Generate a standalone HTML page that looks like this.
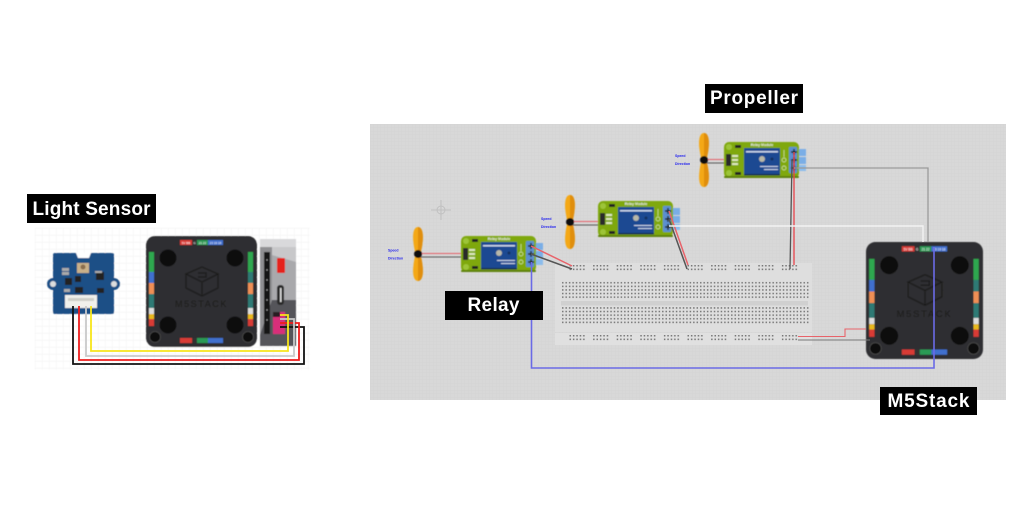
<!DOCTYPE html>
<html><head><meta charset="utf-8"><style>
html,body{margin:0;padding:0;background:#fff;width:1024px;height:513px;overflow:hidden}
svg{display:block}
.lab{font-family:"Liberation Sans",sans-serif;font-weight:700;fill:#fff;text-anchor:middle}
.tiny{font-family:"Liberation Sans",sans-serif;font-size:3.5px;font-weight:700;fill:#2222ee}
.pin{font-family:"Liberation Sans",sans-serif;font-size:3px;fill:#fff;text-anchor:middle}
.mt{font-family:"Liberation Sans",sans-serif;font-weight:700;fill:#eee;text-anchor:middle}
</style></head><body>
<svg xmlns="http://www.w3.org/2000/svg" width="1024" height="513" viewBox="0 0 1024 513">
<defs>
<pattern id="lg" width="7" height="7" patternUnits="userSpaceOnUse" x="35" y="228"><path d="M7 0H0V7" fill="none" stroke="#ececec" stroke-width=".7"/></pattern>
<pattern id="gg" width="3.5" height="3.5" patternUnits="userSpaceOnUse" x="370" y="124"><path d="M3.5 0H0V3.5" fill="none" stroke="#d1d1d1" stroke-width=".5"/></pattern>
<pattern id="dt" width="3.45" height="3.6" patternUnits="userSpaceOnUse" x="561" y="281"><rect x="1" y="1" width="1.5" height="1.5" fill="#777"/></pattern>
<pattern id="rl" width="23.6" height="3.6" patternUnits="userSpaceOnUse" x="569.5" y="265"><g fill="#777"><rect x="0" y="0" width="1.5" height="1.5"/><rect x="3.4" y="0" width="1.5" height="1.5"/><rect x="6.8" y="0" width="1.5" height="1.5"/><rect x="10.2" y="0" width="1.5" height="1.5"/><rect x="13.6" y="0" width="1.5" height="1.5"/></g></pattern>
<pattern id="rl2" width="23.6" height="3.6" patternUnits="userSpaceOnUse" x="569.5" y="335"><g fill="#777"><rect x="0" y="0" width="1.5" height="1.5"/><rect x="3.4" y="0" width="1.5" height="1.5"/><rect x="6.8" y="0" width="1.5" height="1.5"/><rect x="10.2" y="0" width="1.5" height="1.5"/><rect x="13.6" y="0" width="1.5" height="1.5"/></g></pattern>
<filter id="b" x="-5%" y="-5%" width="110%" height="110%"><feGaussianBlur stdDeviation=".4"/></filter>
<g id="prop">
<path d="M0-27C-5-27-5.500-18-4.500-11C-4-6-3-3-2.500 0C-3 3-4 6-4.500 11C-5.500 18-5 27 0 27C5 27 5.500 18 4.500 11C4 6 3 3 2.500 0C3-3 4-6 4.500-11C5.500-18 5-27 0-27Z" fill="#f4a814"/>
<path d="M0-27C5-27 5.500-18 4.500-11C4-6 3-3 2.500 0C3 3 4 6 4.500 11C5.500 18 5 27 0 27Z" fill="#e08e0b"/>
<path d="M0-.5H45" stroke="#e45f66" stroke-width="1"/><path d="M0 3H45" stroke="#555" stroke-width="1"/>
<circle r="4" fill="#0c0c0c"/>
</g>
<g id="relay">
<rect x="66" y="7" width="16" height="7" fill="#7aaee6"/><rect x="66" y="15" width="16" height="7" fill="#7aaee6"/><rect x="66" y="23" width="16" height="6" fill="#8bbcec"/>
<rect width="75" height="36" rx="5" fill="#7fa80f"/>
<rect x="0" y="34" width="75" height="2" rx="1" fill="#5f8208"/>
<circle cx="5" cy="5" r="3" fill="#9dc437"/><circle cx="5" cy="31" r="3" fill="#9dc437"/><circle cx="42" cy="31" r="2" fill="#9dc437"/>
<rect x="11" y="3" width="6" height="3" fill="#222"/><rect x="11" y="30" width="6" height="3" fill="#222"/>
<rect x="2" y="12" width="5" height="12" fill="#2a2a2a"/>
<rect x="8" y="13" width="6" height="2" fill="#dfe8bf"/><rect x="8" y="17" width="6" height="2" fill="#dfe8bf"/><rect x="8" y="21" width="6" height="2" fill="#dfe8bf"/>
<rect x="20" y="6" width="36" height="27" fill="#1d4a92"/><rect x="20" y="32" width="36" height="1.500" fill="#10294f"/>
<rect x="22" y="9" width="32" height="1.500" fill="#c9d5ea"/>
<circle cx="38" cy="17" r="3" fill="#b8b8a8"/><circle cx="48" cy="17" r="1.500" fill="#12305f"/>
<rect x="36" y="24" width="18" height="1" fill="#c9d5ea"/><rect x="40" y="27" width="14" height="1" fill="#c9d5ea"/>
<text class="mt" x="38" y="4.200" font-size="3.500">Relay Module</text>
<rect x="65" y="5" width="8" height="26" rx="1" fill="#5b8fd0"/>
<g stroke="#d9e8a8" stroke-width=".7" fill="none"><circle cx="60" cy="26" r="2"/><circle cx="60" cy="18" r="2"/><path d="M60 8V15"/></g>
<g stroke="#222" stroke-width="1.400"><path d="M67 10H73M70 7V13M67 18H73M70 15V21M67 26H73M70 23V29"/></g>
</g>
</defs>

<!-- LEFT diagram -->
<g filter="url(#b)">
<rect x="35" y="228" width="275" height="142" fill="url(#lg)"/>

<!-- sensor -->
<g>
<circle cx="53" cy="284" r="6" fill="#1d4f86"/><circle cx="114" cy="284" r="6" fill="#1d4f86"/>
<rect x="53" y="253" width="61" height="61" rx="2" fill="#1d4f86"/>
<path d="M76 253H91L89 258H78Z" fill="#fff"/>
<circle cx="53" cy="284" r="3" fill="#ddd"/><circle cx="114" cy="284" r="3" fill="#ddd"/>
<rect x="77" y="263" width="12" height="10" fill="#c9b089"/><circle cx="83" cy="267" r="2.500" fill="#8a6d4e"/>
<g fill="#222"><rect x="65" y="278" width="7" height="7"/><rect x="75" y="276" width="6" height="6"/><rect x="96" y="272" width="8" height="8"/><rect x="75" y="287" width="8" height="6"/><rect x="97" y="288" width="7" height="5"/></g>
<g fill="#aaa"><rect x="62" y="268" width="7" height="3"/><rect x="64" y="289" width="6" height="3"/><rect x="95" y="271" width="7" height="2"/><rect x="62" y="272" width="7" height="3"/></g>
<rect x="65" y="295" width="32" height="13" fill="#f0f0ec"/><rect x="68" y="298" width="26" height="3" fill="#cfcfc8"/>
</g>

<!-- left m5stack -->
<g transform="translate(146 236)">
<rect width="111" height="111" rx="9" fill="#2e2e30"/>
<g fill="#111"><circle cx="22" cy="22" r="8.500"/><circle cx="89" cy="22" r="8.500"/><circle cx="22" cy="89" r="8.500"/><circle cx="89" cy="89" r="8.500"/></g>
<g fill="#0c0c0c" stroke="#4a4a4a" stroke-width=".8"><circle cx="9" cy="101" r="5.500"/><circle cx="102" cy="101" r="5.500"/></g>
<g fill="none" stroke="#1a1a1a" stroke-width="1.200"><path d="M56 31L72 38L56 46L40 38ZM40 38V52L56 60L72 52V38M56 46V60"/><path d="M52 37H60V41H52"/></g>
<text x="55.500" y="71" font-family="Liberation Sans,sans-serif" font-size="9" letter-spacing="1.600" text-anchor="middle" fill="#1b1b1b">M5STACK</text>
<rect x="34" y="4" width="12" height="5" fill="#d93a35"/><rect x="46" y="4" width="5" height="5" fill="#333"/><rect x="51" y="4" width="11" height="5" fill="#2b9a55"/><rect x="62" y="4" width="15" height="5" fill="#3f6fce"/>
<text class="pin" x="40" y="8">5V BB</text><text class="pin" x="48.500" y="8">G</text><text class="pin" x="56.500" y="8">21 22</text><text class="pin" x="69.500" y="8">23 19 18</text>
<rect x="34" y="102" width="12" height="5" fill="#d93a35"/><rect x="46" y="102" width="5" height="5" fill="#333"/><rect x="51" y="102" width="11" height="5" fill="#2b9a55"/><rect x="62" y="102" width="15" height="5" fill="#3f6fce"/>
<rect x="3" y="16" width="5" height="20" fill="#2fa84f"/><rect x="3" y="36" width="5" height="11" fill="#3f6fce"/><rect x="3" y="47" width="5" height="11" fill="#ef8f55"/><rect x="3" y="58" width="5" height="14" fill="#2f7a74"/><rect x="3" y="72" width="5" height="6" fill="#ddd"/><rect x="3" y="78" width="5" height="5" fill="#e8b91c"/><rect x="3" y="83" width="5" height="7" fill="#d93a35"/>
<g transform="translate(99 0)"><rect x="3" y="16" width="5" height="20" fill="#2fa84f"/><rect x="3" y="36" width="5" height="11" fill="#2f7a74"/><rect x="3" y="47" width="5" height="11" fill="#ef8f55"/><rect x="3" y="58" width="5" height="14" fill="#2f7a74"/><rect x="3" y="72" width="5" height="6" fill="#ddd"/><rect x="3" y="78" width="5" height="5" fill="#e8b91c"/><rect x="3" y="83" width="5" height="7" fill="#d93a35"/></g>
</g>

<!-- silver device -->
<rect x="260" y="239" width="36" height="107" rx="2" fill="#a9a9ac"/>
<rect x="260" y="239" width="36" height="8" fill="#d9d9db"/>
<path d="M260 247H272V340H260Z" fill="#8f8f92"/>
<path d="M272 300H296V346H260V335Z" fill="#55555a"/>
<path d="M272 247H296V262L272 255Z" fill="#c8c8ca"/>
<rect x="264" y="252" width="6" height="82" fill="#161616"/>
<g fill="#aaa"><circle cx="267" cy="260" r=".7"/><circle cx="267" cy="270" r=".7"/><circle cx="267" cy="280" r=".7"/><circle cx="267" cy="290" r=".7"/><circle cx="267" cy="300" r=".7"/><circle cx="267" cy="310" r=".7"/><circle cx="267" cy="320" r=".7"/></g>
<rect x="277" y="258" width="8" height="15" rx="1" fill="#e5201f"/>
<rect x="277" y="285" width="7" height="20" rx="3" fill="#2a2a2a"/><rect x="280" y="288" width="1.500" height="14" fill="#ddd"/>
<rect x="273" y="312" width="12" height="22" fill="#d92f7a"/><rect x="273" y="312" width="7" height="5" fill="#2a1a20"/>
</g>

<!-- left wires -->
<g fill="none" stroke-width="1.800">
<path d="M73 306V364H304V327H280" stroke="#111"/>
<path d="M79 306V360H299V323H280" stroke="#ee1c1c"/>
<path d="M86 306V356H294V319H280" stroke="#c9c9c9"/>
<path d="M91 306V351H288V315H280" stroke="#f7e51b"/>
</g>

<!-- RIGHT diagram -->
<rect x="370" y="124" width="636" height="276" fill="#d8d8d8"/>
<rect x="370" y="124" width="636" height="276" fill="url(#gg)"/>
<g stroke="#c0c0c0" stroke-width="1" fill="none"><circle cx="441" cy="210" r="4"/><path d="M431 210H451M441 200V220"/></g>

<!-- breadboard -->
<rect x="555" y="263" width="257" height="69" fill="#dedede"/>
<rect x="555" y="333" width="257" height="12" fill="#e0e0e0"/>
<rect x="561" y="301" width="247" height="4.500" fill="#d0d0d0"/>
<rect x="561" y="281" width="248" height="18" fill="url(#dt)"/>
<rect x="561" y="307" width="248" height="18" fill="url(#dt)"/>
<rect x="569.500" y="265" width="236" height="7" fill="url(#rl)"/>
<rect x="569.500" y="335" width="236" height="7" fill="url(#rl2)"/>

<!-- propellers -->
<g filter="url(#b)">
<use href="#prop" x="418" y="254"/>
<use href="#prop" x="570" y="222"/>
<use href="#prop" x="704" y="160"/>
<use href="#relay" x="461" y="236"/>
<use href="#relay" x="598" y="201"/>
<use href="#relay" x="724" y="142"/>
</g>

<g class="tiny">
<text class="tiny" x="388" y="251.500">Speed</text><text class="tiny" x="388" y="259.500">Direction</text>
<text class="tiny" x="541" y="220">Speed</text><text class="tiny" x="541" y="228">Direction</text>
<text class="tiny" x="675" y="157">Speed</text><text class="tiny" x="675" y="165">Direction</text>
</g>

<!-- right m5stack -->
<g filter="url(#b)" transform="translate(866 242) scale(1.054)">
<rect width="111" height="111" rx="9" fill="#2e2e30"/>
<g fill="#111"><circle cx="22" cy="22" r="8.500"/><circle cx="89" cy="22" r="8.500"/><circle cx="22" cy="89" r="8.500"/><circle cx="89" cy="89" r="8.500"/></g>
<g fill="#0c0c0c" stroke="#4a4a4a" stroke-width=".8"><circle cx="9" cy="101" r="5.500"/><circle cx="102" cy="101" r="5.500"/></g>
<g fill="none" stroke="#1a1a1a" stroke-width="1.200"><path d="M56 31L72 38L56 46L40 38ZM40 38V52L56 60L72 52V38M56 46V60"/><path d="M52 37H60V41H52"/></g>
<text x="55.500" y="71" font-family="Liberation Sans,sans-serif" font-size="9" letter-spacing="1.600" text-anchor="middle" fill="#1b1b1b">M5STACK</text>
<rect x="34" y="4" width="12" height="5" fill="#d93a35"/><rect x="46" y="4" width="5" height="5" fill="#333"/><rect x="51" y="4" width="11" height="5" fill="#2b9a55"/><rect x="62" y="4" width="15" height="5" fill="#3f6fce"/>
<text class="pin" x="40" y="8">5V BB</text><text class="pin" x="48.500" y="8">G</text><text class="pin" x="56.500" y="8">21 22</text><text class="pin" x="69.500" y="8">23 19 18</text>
<rect x="34" y="102" width="12" height="5" fill="#d93a35"/><rect x="46" y="102" width="5" height="5" fill="#333"/><rect x="51" y="102" width="11" height="5" fill="#2b9a55"/><rect x="62" y="102" width="15" height="5" fill="#3f6fce"/>
<rect x="3" y="16" width="5" height="20" fill="#2fa84f"/><rect x="3" y="36" width="5" height="11" fill="#3f6fce"/><rect x="3" y="47" width="5" height="11" fill="#ef8f55"/><rect x="3" y="58" width="5" height="14" fill="#2f7a74"/><rect x="3" y="72" width="5" height="6" fill="#ddd"/><rect x="3" y="78" width="5" height="5" fill="#e8b91c"/><rect x="3" y="83" width="5" height="7" fill="#d93a35"/>
<g transform="translate(99 0)"><rect x="3" y="16" width="5" height="20" fill="#2fa84f"/><rect x="3" y="36" width="5" height="11" fill="#2f7a74"/><rect x="3" y="47" width="5" height="11" fill="#ef8f55"/><rect x="3" y="58" width="5" height="14" fill="#2f7a74"/><rect x="3" y="72" width="5" height="6" fill="#ddd"/><rect x="3" y="78" width="5" height="5" fill="#e8b91c"/><rect x="3" y="83" width="5" height="7" fill="#d93a35"/></g>
</g>

<!-- right wires -->
<g fill="none" stroke-width="1.100">
<path d="M531 246L572 266" stroke="#e8636a" stroke-width="1.500"/>
<path d="M531 254L572 269" stroke="#555" stroke-width="1.500"/>
<path d="M669 211L688 265" stroke="#e8636a" stroke-width="1.500"/>
<path d="M669 219L687 269" stroke="#555" stroke-width="1.500"/>
<path d="M794 152V265" stroke="#e8434a" stroke-width="1.300"/>
<path d="M792 160L790 269" stroke="#555" stroke-width="1.300"/>
<path d="M669 226H923V242" stroke="#f2f2f2" stroke-width="1.400"/>
<path d="M794 168H928V242" stroke="#9a9a9a" stroke-width="1.300"/>
<path d="M798 336.500H845V329H866" stroke="#e8636a"/>
<path d="M798 340H870" stroke="#777"/>
<path d="M531.500 262V368H934V247" stroke="#6a6ae6" stroke-width="1.600"/>
</g>

<!-- labels -->
<rect x="27" y="194" width="129" height="29" fill="#000"/>
<text class="lab" x="91.500" y="215" font-size="19" textLength="118">Light Sensor</text>
<rect x="705" y="84" width="98" height="29" fill="#000"/>
<text class="lab" x="754" y="104" font-size="19" textLength="88">Propeller</text>
<rect x="445" y="291" width="98" height="29" fill="#000"/>
<text class="lab" x="493.500" y="311" font-size="19" textLength="52">Relay</text>
<rect x="880" y="387" width="97" height="28" fill="#000"/>
<text class="lab" x="928.500" y="407" font-size="19" textLength="82">M5Stack</text>
</svg>
</body></html>
